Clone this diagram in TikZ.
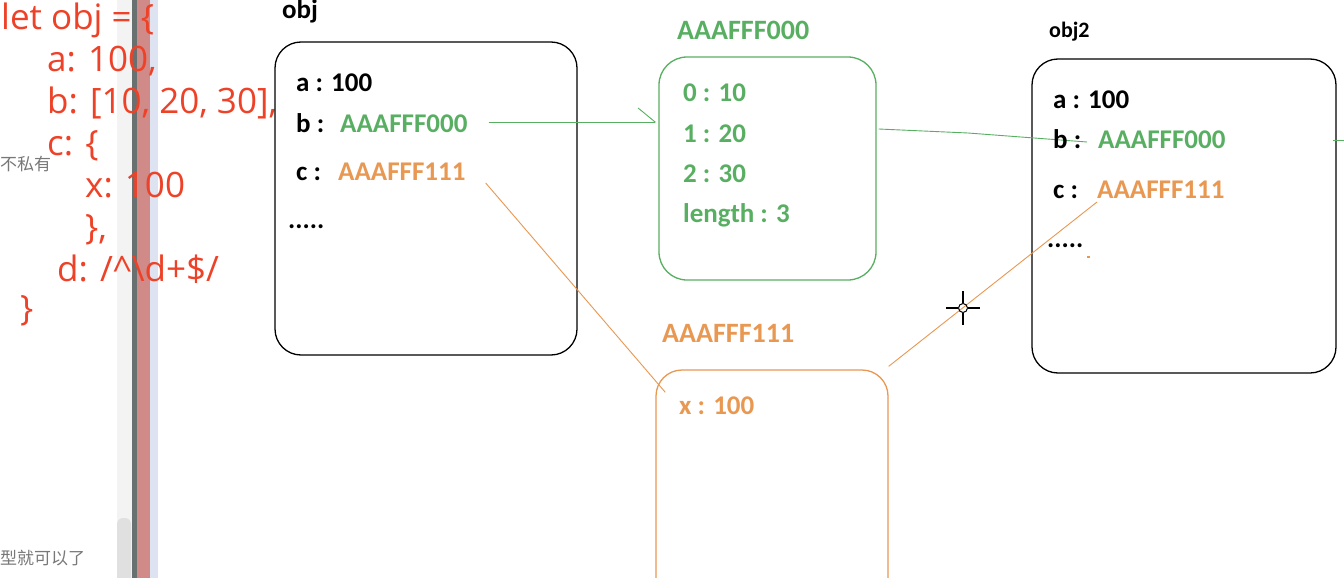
\documentclass[tikz,border=0pt]{standalone}
\usepackage{fontspec}
\setmainfont{Carlito}
\newfontfamily\codefont{Open Sans}
\newfontfamily\cjkfont{Noto Sans CJK SC}
\usetikzlibrary{arrows.meta,calc}
\definecolor{codered}{RGB}{238,66,40}
\definecolor{memgreen}{RGB}{88,175,98}
\definecolor{memorange}{RGB}{233,152,82}
\definecolor{cjkgray}{RGB}{120,120,120}
\definecolor{scrolllight}{RGB}{243,243,243}
\definecolor{scrollthumb}{RGB}{224,224,224}
\definecolor{sepdark}{RGB}{105,112,112}
\definecolor{sepred}{RGB}{208,138,135}
\definecolor{sepblue}{RGB}{221,227,240}
\tikzset{
  lbl/.style={inner sep=0pt, anchor=base west, font=\fontsize{27}{27}\bfseries\selectfont},
  ttl/.style={inner sep=0pt, anchor=base west, font=\fontsize{22}{22}\bfseries\selectfont},
  addrttl/.style={inner sep=0pt, anchor=base west, font=\fontsize{28}{28}\bfseries\selectfont},
  codeln/.style={inner sep=0pt, anchor=base west, text=codered, font=\codefont\fontsize{35}{35}\selectfont},
  cjkln/.style={inner sep=0pt, anchor=base west, text=cjkgray, font=\cjkfont\fontsize{17}{17}\selectfont},
  membox/.style={draw, rounded corners=26pt, line width=1.3pt, inner sep=0pt},
  link/.style={line width=0.9pt},
}
\begin{document}
\begin{tikzpicture}[x=1pt,y=-1pt]
\clip (0,0) rectangle (1344,578);
\fill[white] (0,0) rectangle (1344,578);
% sidebar
\fill[scrolllight] (117,0) rectangle (132,578);
\fill[scrollthumb, rounded corners=6pt] (117,518) rectangle (131,590);
\fill[sepdark] (132,0) rectangle (137,578);
\fill[sepred] (137,0) rectangle (150,578);
\fill[sepblue] (150,0) rectangle (158,578);
\node[cjkln] (cjk1) at (0,170) {不私有};
\node[cjkln] (cjk2) at (0,564) {型就可以了};
% code
\node[codeln] (code1) at (1,30) {let obj = \{};
\node[codeln] (code2) at (47,72) {a: 100,};
\node[codeln] (code3) at (47,113) {b: [10, 20, 30],};
\node[codeln] (code4) at (47,155) {c: \{};
\node[codeln] (code5) at (85,197) {x: 100};
\node[codeln] (code6) at (85,239) {\},};
\node[codeln] (code7) at (57,281) {d: /\textasciicircum\textbackslash d+\$/};
\node[codeln] (code8) at (20,320) {\}};
% obj
\node[ttl, font=\fontsize{27}{27}\bfseries\selectfont] (objt) at (282,19) {obj};
\node[membox, minimum width=302pt, minimum height=313pt] (objbox) at (426,198.5) {};
\node[lbl] (obja) at (296,92) {a : 100};
\node[lbl] (objb) at (296,132) {b :};
\node[lbl, text=memgreen] (objbv) at (340,132) {AAAFFF000};
\node[lbl] (objc) at (296,180) {c :};
\node[lbl, text=memorange] (objcv) at (338,180) {AAAFFF111};
\node[lbl] (objd) at (288,228) {.....};
% array
\node[addrttl, text=memgreen] (gt) at (677,40) {AAAFFF000};
\node[membox, draw=memgreen, rounded corners=28pt, minimum width=217pt, minimum height=223pt] (gbox) at (767.5,168.5) {};
\node[lbl, text=memgreen] (g0) at (683,101) {0 : 10};
\node[lbl, text=memgreen] (g1) at (683,142) {1 : 20};
\node[lbl, text=memgreen] (g2) at (683,182) {2 : 30};
\node[lbl, text=memgreen] (g3) at (683,222) {length : 3};
% inner object
\node[addrttl, text=memorange] (ot) at (662,342) {AAAFFF111};
\node[membox, draw=memorange, minimum width=232pt, minimum height=270pt] (obox) at (772,505) {};
\node[lbl, text=memorange] (ox) at (679,414) {x : 100};
% obj2
\node[ttl] (o2t) at (1049,38) {obj2};
\node[membox, minimum width=304pt, minimum height=314pt] (o2box) at (1184,216) {};
\node[lbl] (o2a) at (1053,108) {a : 100};
\node[lbl, text=memgreen] (o2bv) at (1098,148) {AAAFFF000};
\node[lbl] (o2c) at (1053,198) {c :};
\node[lbl, text=memorange] (o2cv) at (1097,198) {AAAFFF111};
\node[lbl] (o2d) at (1047,247) {.....};
\draw[memorange, line width=1.2pt] (1087,257) -- (1090,257);
% connectors
\coordinate (gstart) at ($(objbv.base east)+(21,-10)$);
\coordinate (gend) at ($(gbox.west)+(-2,-46.5)$);
\draw[link, memgreen, -{Straight Barb[harpoon, length=17pt, width=28pt]}] (gstart) -- (gend);
\coordinate (g2start) at ($(gbox.east)+(2,-39.5)$);
\coordinate (g2end) at ($(o2bv.base west)+(-11,-6)$);
\draw[link, memgreen] (g2start) -- (968,133) -- (g2end);
\draw[link, memgreen] (1333,140) -- (1344,140);
\coordinate (o1start) at ($(objcv.base east)+(20,3)$);
\coordinate (o1end) at ($(obox.north west)+(10,23)$);
\draw[link, memorange] (o1start) -- (o1end);
\coordinate (o2start) at ($(obox.north east)+(0,-3)$);
\coordinate (o2end) at ($(o2cv.base west)+(0,4)$);
\draw[link, memorange] (o2start) -- (o2end);
\node[lbl] (o2b) at (1053,148) {b :};
% cursor
\draw[line width=1.4pt] (946,308) -- (958,308) (968,308) -- (980,308) (963,291) -- (963,303) (963,313) -- (963,325);
\draw[line width=1pt] (963,308) circle[radius=4.5];
\end{tikzpicture}
\end{document}
